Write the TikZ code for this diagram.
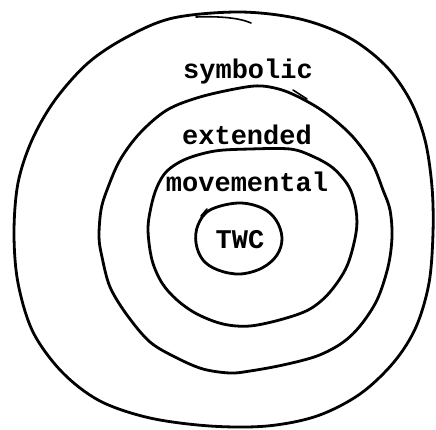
\documentclass[tikz,border=0pt]{standalone}
\usepackage{fontspec}
\newfontfamily\typew{Liberation Mono}
\begin{document}
\begin{tikzpicture}[x=1pt,y=-1pt,
  ring/.style={line width=2.8pt, black, line join=round, line cap=round},
  tick/.style={line width=1.6pt, black, line cap=round},
  lbl/.style={font=\typew\bfseries\fontsize{27}{30}\selectfont, inner sep=0pt}]
\useasboundingbox (0,0) rectangle (436,429);
% outer ring
\draw[ring] plot[smooth cycle, tension=0.55] coordinates {
 (240,12) (300,19) (348,37) (385,65) (410,100) (425,140) (432,187) (433,233)
 (429,283) (416,327) (394,362) (360,394) (317,416) (267,426) (210,426)
 (150,418) (100,401) (62,372) (33,332) (18,283) (14,233) (18,183) (32,140)
 (55,100) (88,63) (127,37) (173,18)};
\draw[tick] (196,17) .. controls (220,16) and (240,18) .. (251,23);
% second ring
\draw[ring] plot[smooth cycle, tension=0.55] coordinates {
 (240,88) (262,86) (285,91) (310,103) (331,117) (353,137) (372,163) (383,190)
 (390,210) (392,237) (388,267) (377,300) (360,326) (342,343) (317,356)
 (283,365) (250,371) (230,373) (203,369) (177,358) (150,342) (127,315)
 (110,287) (102,257) (99,237) (101,210) (107,190) (120,160) (140,133)
 (167,110) (200,97)};
\draw[tick] (293,90) -- (307,99);
% third ring
\draw[ring] plot[smooth cycle, tension=0.55] coordinates {
 (250,149) (290,149) (312,156) (333,168) (349,187) (356,210) (356,233)
 (347,266) (330,292) (310,309) (283,319) (250,326) (223,324) (197,314)
 (177,300) (162,283) (152,260) (148,230) (151,207) (157,187) (167,171)
 (186,159) (215,151)};
% inner ring
\draw[ring] plot[smooth cycle, tension=0.6] coordinates {
 (238,203) (262,208) (276,220) (282,238) (277,255) (262,268) (240,274)
 (218,270) (203,260) (196,243) (198,225) (210,210)};
\draw[tick] (201,216) -- (207,209);
\node[lbl] (sym) at (248,72) {symbolic};
\node[lbl] (ext) at (247,135) {extended};
\node[lbl] (mov) at (247,182) {movemental};
\node[lbl] (twc) at (240,240) {TWC};
\end{tikzpicture}
\end{document}
